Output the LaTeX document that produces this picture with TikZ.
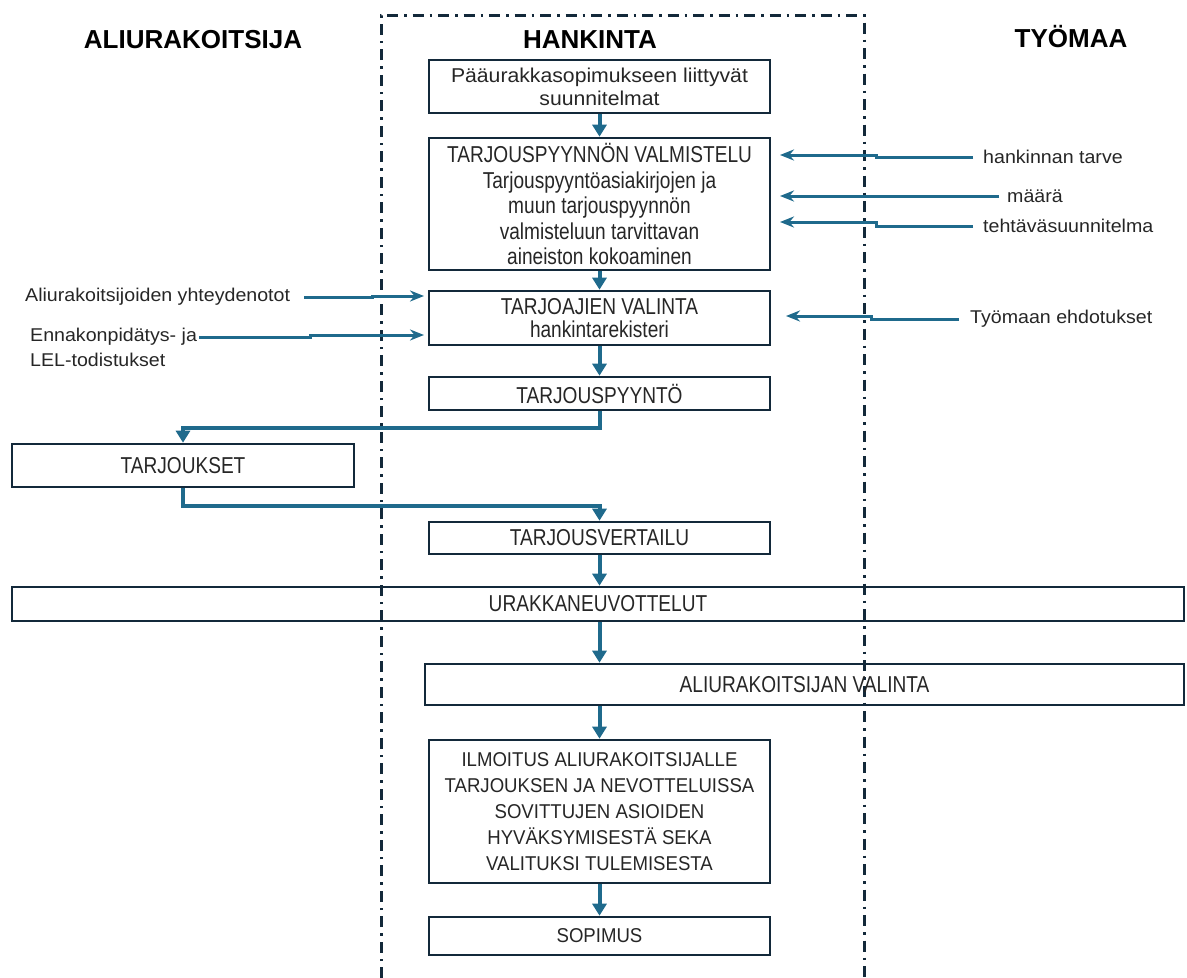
\documentclass[tikz,border=0pt]{standalone}
\usepackage{fontspec}
\setmainfont{Liberation Sans}
\newfontfamily\widef[FakeStretch=1.06]{Liberation Sans}
\newfontfamily\narrowf[FakeStretch=0.83]{Liberation Sans}
\newfontfamily\capsf[FakeStretch=0.93]{Liberation Sans}
\usetikzlibrary{arrows.meta}
\definecolor{boxline}{HTML}{13293A}
\definecolor{arrowblue}{HTML}{1F6A8C}
\definecolor{txt}{HTML}{262626}
\definecolor{framec}{HTML}{13293A}
\begin{document}
\begin{tikzpicture}[x=1pt,y=-1pt,
  pbox/.style={draw=boxline,line width=2.6pt,inner sep=0pt,align=center,text=txt},
  nbox/.style={pbox,font=\narrowf\fontsize{23}{25.5}\selectfont},
  wbox/.style={pbox,font=\capsf\fontsize{20}{26}\selectfont},
  mainarrow/.style={draw=arrowblue,line width=4pt,-{Triangle[length=12pt,width=14pt]}},
  sidearrow/.style={draw=arrowblue,line width=3pt,-{Stealth[length=14pt,width=11pt]}},
  sidelabel/.style={anchor=west,inner sep=0pt,text=txt,font=\widef\fontsize{18.5}{21}\selectfont},
  header/.style={inner sep=0pt,text=black,font=\bfseries\fontsize{26}{30}\selectfont},
  frame/.style={draw=framec,line width=3pt,dash pattern=on 11pt off 6pt on 2.5pt off 6pt}]
\path[use as bounding box] (0,0) rectangle (1187,978);

% frame
\draw[frame] (381,978) -- (381,15) -- (864,15) -- (864,978);

% headers
\node[header] (hA) at (193,40) {ALIURAKOITSIJA};
\node[header] (hH) at (590,40) {HANKINTA};
\node[header] (hT) at (1071,37) {TYÖMAA};

% boxes
\node[pbox,minimum width=341pt,minimum height=53pt,font=\widef\fontsize{20}{23}\selectfont] (b1) at (599.5,86.5) {Pääurakkasopimukseen liittyvät\\suunnitelmat};
\node[nbox,minimum width=341pt,minimum height=132pt] (b2) at (599.5,204) {TARJOUSPYYNNÖN VALMISTELU\\Tarjouspyyntöasiakirjojen ja\\muun tarjouspyynnön\\valmisteluun tarvittavan\\aineiston kokoaminen};
\node[nbox,minimum width=341pt,minimum height=54pt,font=\narrowf\fontsize{23}{23}\selectfont] (b3) at (599.5,318) {TARJOAJIEN VALINTA\\hankintarekisteri};
\node[nbox,minimum width=341pt,minimum height=33pt] (b4) at (599.5,393.5) {TARJOUSPYYNTÖ};
\node[nbox,minimum width=342pt,minimum height=43pt] (b5) at (183,465.5) {TARJOUKSET};
\node[nbox,minimum width=341pt,minimum height=32pt] (b6) at (599.5,538) {TARJOUSVERTAILU};
\node[nbox,minimum width=1172pt,minimum height=34pt] (b7) at (598,604) {URAKKANEUVOTTELUT};
\node[nbox,minimum width=759pt,minimum height=41pt] (b8) at (804.5,684.5) {ALIURAKOITSIJAN VALINTA};
\node[wbox,minimum width=341pt,minimum height=143pt] (b9) at (599.5,811.5) {ILMOITUS ALIURAKOITSIJALLE\\TARJOUKSEN JA NEVOTTELUISSA\\SOVITTUJEN ASIOIDEN\\HYVÄKSYMISESTÄ SEKA\\VALITUKSI TULEMISESTA};
\node[wbox,minimum width=341pt,minimum height=38pt] (b10) at (599.5,936) {SOPIMUS};

% main flow
\draw[mainarrow] (b1.south) -- (b2.north);
\draw[mainarrow] (b2.south) -- (b3.north);
\draw[mainarrow] (b3.south) -- (b4.north);
\draw[mainarrow] (b4.south) -- ++(0,17) -| (b5.north);
\draw[mainarrow] (b5.south) -- ++(0,18) -| (b6.north);
\draw[mainarrow] (b6.south) -- (b6.south |- b7.north);
\draw[mainarrow] (b6.south |- b7.south) -- (b6.south |- b8.north);
\draw[mainarrow] (b6.south |- b8.south) -- (b9.north);
\draw[mainarrow] (b9.south) -- (b10.north);

% right side inputs
\node[sidelabel] (r1) at (983,157) {hankinnan tarve};
\node[sidelabel] (r2) at (1007,196) {määrä};
\node[sidelabel] (r3) at (983,226) {tehtäväsuunnitelma};
\node[sidelabel] (r4) at (970,319) {Työmaan ehdotukset};
\coordinate (t1) at (780,155);
\coordinate (t2) at (780,196);
\coordinate (t3) at (780,222);
\coordinate (t4) at (786,316);
\draw[sidearrow] ([xshift=-10pt]r1.west) -| (876,155) -- (t1);
\draw[sidearrow] ([xshift=-8pt]r2.west) -| (890,196) -- (t2);
\draw[sidearrow] ([xshift=-10pt]r3.west) -| (876,222) -- (t3);
\draw[sidearrow] ([xshift=-11pt]r4.west) -| (871,316) -- (t4);

% left side inputs
\node[sidelabel] (l1) at (25,297) {Aliurakoitsijoiden yhteydenotot};
\node[sidelabel] (l2) at (30,337) {Ennakonpidätys- ja};
\node[sidelabel] (l3) at (30,360) {LEL-todistukset};
\coordinate (s1) at (424,296);
\coordinate (s2) at (424,335);
\draw[sidearrow] ([xshift=14pt]l1.east) -| (372,296) -- (s1);
\draw[sidearrow] ([xshift=2pt]l2.east) -| (310,335) -- (s2);
\end{tikzpicture}
\end{document}
